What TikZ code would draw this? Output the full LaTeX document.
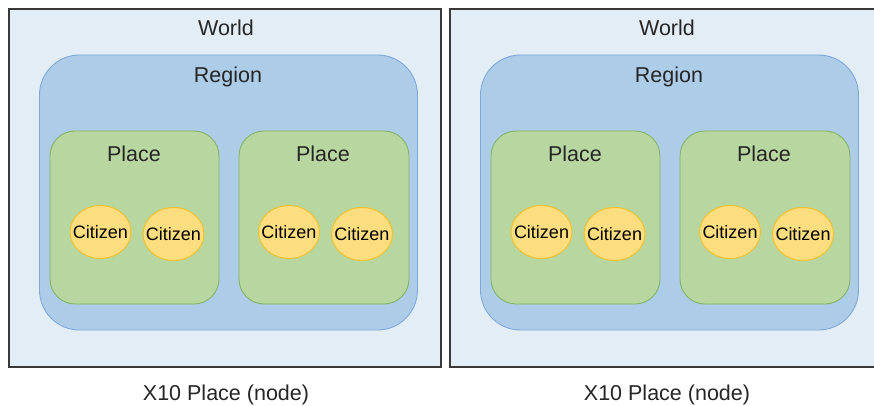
\documentclass[tikz,border=0pt]{standalone}
\usepackage{fontspec}
\setmainfont{Liberation Sans}
\definecolor{worldfill}{HTML}{E3EDF6}
\definecolor{worlddraw}{HTML}{3A3A3A}
\definecolor{regionfill}{HTML}{ADCCE8}
\definecolor{regiondraw}{HTML}{7EA8DA}
\definecolor{placefill}{HTML}{B8D7A0}
\definecolor{placedraw}{HTML}{82B366}
\definecolor{citizenfill}{HTML}{FCDD7F}
\definecolor{citizendraw}{HTML}{F2C12E}
\tikzset{
	world/.style={draw=worlddraw,fill=worldfill,line width=1.2pt,rectangle,inner sep=0pt},
	region/.style={draw=regiondraw,fill=regionfill,line width=0.9pt,rectangle,rounded corners=40pt,inner sep=0pt},
	place/.style={draw=placedraw,fill=placefill,line width=0.9pt,rectangle,rounded corners=25pt,inner sep=0pt},
	citizen/.style={draw=citizendraw,fill=citizenfill,line width=1pt,ellipse,inner xsep=-6.5pt,inner ysep=0pt,minimum width=61pt,minimum height=53pt,font=\fontsize{18}{21}\selectfont},
	title/.style={font=\fontsize{21.5}{25}\selectfont,text=black!85,inner sep=0pt}
}
\usetikzlibrary{shapes.geometric}
\begin{document}
\begin{tikzpicture}[x=1pt,y=-1pt]
		\useasboundingbox (0,0) rectangle (874,406);
		\fill[color=white] (0,0) rectangle (874,406);
		% left node
		\node[world,minimum width=432pt,minimum height=358pt] (worldL) at (225,188) {};
		\node[title] (worldtxtL) at (226,28) {World};
		\node[region,minimum width=378pt,minimum height=275pt] (regionL) at (228.5,192.5) {};
		\node[title] (regiontxtL) at (228,77) {Region};
		\node[place,minimum width=169pt,minimum height=173pt] (placeLa) at (134.5,217.5) {};
		\node[place,minimum width=170pt,minimum height=173pt] (placeLb) at (324,217.5) {};
		\node[title] (placetxtLa) at (134,154) {Place};
		\node[title] (placetxtLb) at (323,154) {Place};
		\node[citizen] (citLa) at (100.5,232) {Citizen};
		\node[citizen] (citLb) at (173.5,234) {Citizen};
		\node[citizen] (citLc) at (289,232) {Citizen};
		\node[citizen] (citLd) at (362,234) {Citizen};
		\node[title] (captionL) at (226,395) {X10 Place (node)};
		% right node
		\node[world,minimum width=440pt,minimum height=358pt] (worldR) at (670,188) {};
		\node[title] (worldtxtR) at (667,28) {World};
		\node[region,minimum width=378pt,minimum height=275pt] (regionR) at (669.5,192.5) {};
		\node[title] (regiontxtR) at (669,77) {Region};
		\node[place,minimum width=169pt,minimum height=173pt] (placeRa) at (575.5,217.5) {};
		\node[place,minimum width=170pt,minimum height=173pt] (placeRb) at (765,217.5) {};
		\node[title] (placetxtRa) at (575,154) {Place};
		\node[title] (placetxtRb) at (764,154) {Place};
		\node[citizen] (citRa) at (541.5,232) {Citizen};
		\node[citizen] (citRb) at (614.5,234) {Citizen};
		\node[citizen] (citRc) at (730,232) {Citizen};
		\node[citizen] (citRd) at (803,234) {Citizen};
		\node[title] (captionR) at (667,395) {X10 Place (node)};
	\end{tikzpicture}
\end{document}
